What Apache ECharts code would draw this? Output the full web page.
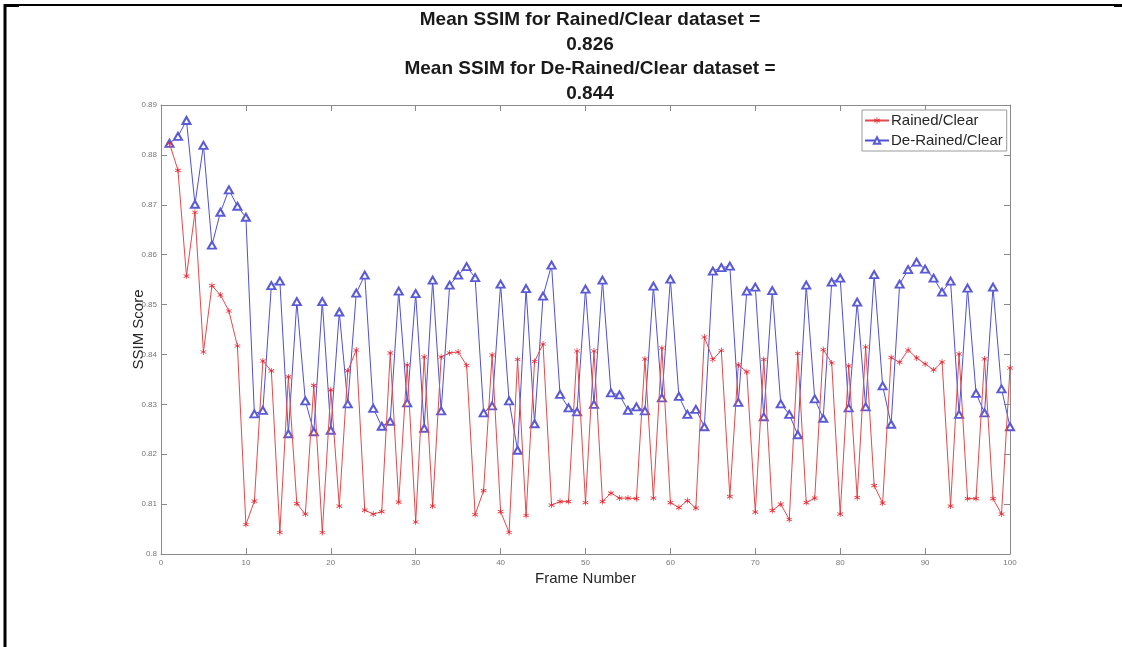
<!DOCTYPE html>
<html>
<head>
<meta charset="utf-8">
<script src="https://cdn.jsdelivr.net/npm/echarts@6/dist/echarts.min.js"></script>
<style>html,body{margin:0;padding:0;background:#fff;}#c{width:1122px;height:647px;}</style>
</head>
<body>
<div id="c"></div>
<script>
const frames = Array.from({length: 100}, (_, i) => i + 1);
const rained = [
0.8823,0.8769,0.8557,0.8685,0.8405,0.8538,0.8519,0.8487,0.8417,0.8059,
0.8106,0.8387,0.8367,0.8043,0.8355,0.8101,0.8080,0.8338,0.8043,0.8329,
0.8096,0.8367,0.8409,0.8088,0.8080,0.8085,0.8403,0.8104,0.8379,0.8064,
0.8395,0.8096,0.8395,0.8403,0.8405,0.8378,0.8079,0.8127,0.8399,0.8085,
0.8043,0.8390,0.8077,0.8386,0.8421,0.8098,0.8105,0.8105,0.8407,0.8103,
0.8407,0.8105,0.8122,0.8112,0.8112,0.8111,0.8391,0.8112,0.8413,0.8103,
0.8093,0.8107,0.8092,0.8435,0.8390,0.8408,0.8115,0.8379,0.8365,0.8084,
0.8390,0.8087,0.8100,0.8069,0.8402,0.8103,0.8112,0.8410,0.8383,0.8080,
0.8377,0.8113,0.8415,0.8137,0.8102,0.8394,0.8384,0.8409,0.8393,0.8381,
0.8369,0.8385,0.8096,0.8401,0.8111,0.8111,0.8391,0.8111,0.8080,0.8373
];
const derained = [
0.8823,0.8837,0.8869,0.8701,0.8819,0.8619,0.8685,0.8730,0.8697,0.8675,
0.8281,0.8288,0.8538,0.8547,0.8241,0.8506,0.8307,0.8245,0.8506,0.8248,
0.8485,0.8301,0.8523,0.8559,0.8292,0.8256,0.8266,0.8527,0.8303,0.8522,
0.8252,0.8549,0.8287,0.8539,0.8559,0.8576,0.8554,0.8283,0.8297,0.8541,
0.8307,0.8208,0.8532,0.8261,0.8517,0.8579,0.8320,0.8293,0.8285,0.8531,
0.8300,0.8549,0.8323,0.8319,0.8288,0.8295,0.8287,0.8537,0.8313,0.8551,
0.8316,0.8280,0.8290,0.8255,0.8567,0.8574,0.8577,0.8304,0.8527,0.8535,
0.8275,0.8528,0.8301,0.8280,0.8239,0.8539,0.8311,0.8272,0.8545,0.8553,
0.8293,0.8505,0.8295,0.8560,0.8337,0.8260,0.8541,0.8570,0.8585,0.8571,
0.8553,0.8525,0.8547,0.8280,0.8533,0.8322,0.8283,0.8535,0.8331,0.8255
];
const seriesNames = ['Rained/Clear', 'De-Rained/Clear'];
const titleLines = ['Mean SSIM for Rained/Clear dataset =', '0.826', 'Mean SSIM for De-Rained/Clear dataset =', '0.844'];
const xLabel = 'Frame Number';
const yLabel = 'SSIM Score';

const chart = echarts.init(document.getElementById('c'), null, {renderer: 'canvas'});
const FONT = '"Liberation Sans", Arial, sans-serif';
const TFONT = '"Liberation Sans Narrow", "Liberation Sans", Arial, sans-serif';
const axisCol = '#8a8a8a';
const fmt = v => String(parseFloat(Number(v).toFixed(2)));
const asterisk = 'path://M4.5,0 L5.5,0 L5.5,3.8 L8.8,1.9 L9.3,2.8 L6,4.7 L9.3,6.6 L8.8,7.5 L5.5,5.6 L5.5,9.4 L4.5,9.4 L4.5,5.6 L1.2,7.5 L0.7,6.6 L4,4.7 L0.7,2.8 L1.2,1.9 L4.5,3.8 Z';

chart.setOption({
  animation: false,
  backgroundColor: '#fff',
  title: {
    text: titleLines.join('\n'),
    left: 585, top: 3, textAlign: 'center',
    textStyle: {fontFamily: TFONT, fontWeight: 'bold', fontSize: 19, lineHeight: 24.5, color: '#1a1a1a'}
  },
  graphic: [
    {type: 'line', shape: {x1: 4, y1: 5, x2: 1122, y2: 5}, style: {stroke: '#000', lineWidth: 2}},
    {type: 'line', shape: {x1: 5, y1: 4, x2: 5, y2: 647}, style: {stroke: '#000', lineWidth: 3}},
    {type: 'rect', shape: {x: 4, y: 4, width: 15, height: 3}, style: {fill: '#000'}},
    {type: 'rect', shape: {x: 1114, y: 4, width: 8, height: 3}, style: {fill: '#000'}}
  ],
  legend: {
    data: seriesNames,
    orient: 'vertical',
    left: 862, top: 110,
    itemWidth: 24, itemHeight: 8, itemGap: 5,
    padding: [3, 4, 3, 2],
    borderColor: '#9a9a9a', borderWidth: 1,
    backgroundColor: '#fff',
    textStyle: {fontFamily: FONT, fontSize: 15, color: '#262626', padding: [0, 0, 0, -3]}
  },
  grid: {left: 161, right: 112, top: 105, bottom: 93, containLabel: false},
  xAxis: [{
    type: 'value', min: 0, max: 100, interval: 10,
    name: xLabel, nameLocation: 'middle', nameGap: 17, nameMoveOverlap: false,
    nameTextStyle: {fontFamily: FONT, fontSize: 15, color: '#262626'},
    axisLine: {lineStyle: {color: axisCol, width: 1}},
    axisTick: {inside: true, length: 6, lineStyle: {color: axisCol}},
    axisLabel: {fontFamily: FONT, fontSize: 8, color: '#777', margin: 5},
    splitLine: {show: false}
  }, {
    type: 'value', position: 'top', min: 0, max: 100, interval: 10,
    axisLine: {onZero: false, lineStyle: {color: axisCol}},
    axisTick: {inside: true, length: 6, lineStyle: {color: axisCol}},
    axisLabel: {show: false}, splitLine: {show: false}
  }],
  yAxis: [{
    type: 'value', min: 0.8, max: 0.89, interval: 0.01,
    name: yLabel, nameLocation: 'middle', nameGap: 15, nameRotate: 90, nameMoveOverlap: false,
    nameTextStyle: {fontFamily: FONT, fontSize: 15, color: '#262626'},
    axisLine: {show: true, lineStyle: {color: axisCol}},
    axisTick: {show: true, inside: true, length: 6, lineStyle: {color: axisCol}},
    axisLabel: {fontFamily: FONT, fontSize: 8, color: '#777', margin: 4, formatter: fmt},
    splitLine: {show: false}
  }, {
    type: 'value', position: 'right', min: 0.8, max: 0.89, interval: 0.01,
    axisLine: {show: true, onZero: false, lineStyle: {color: axisCol}},
    axisTick: {show: true, inside: true, length: 6, lineStyle: {color: axisCol}},
    axisLabel: {show: false}, splitLine: {show: false}
  }],
  series: [{
    name: seriesNames[0], type: 'line',
    data: frames.map((f, i) => [f, rained[i]]),
    symbol: asterisk, symbolSize: 6, showAllSymbol: true,
    lineStyle: {color: '#e34a4c', width: 1},
    itemStyle: {color: '#e8202a'},
    z: 3
  }, {
    name: seriesNames[1], type: 'line',
    data: frames.map((f, i) => [f, derained[i]]),
    symbol: 'emptyTriangle', symbolSize: [8, 7], showAllSymbol: true,
    lineStyle: {color: '#5050d0', width: 1},
    itemStyle: {color: '#5a5ad6', borderWidth: 1},
    z: 2
  }]
});
</script>
</body>
</html>
